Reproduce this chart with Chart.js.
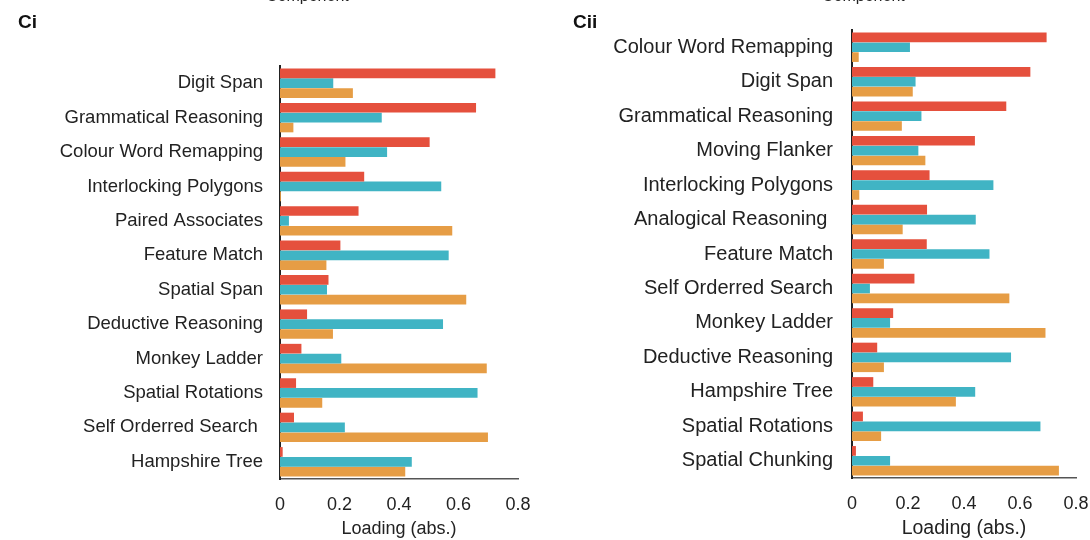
<!DOCTYPE html>
<html>
<head>
<meta charset="utf-8">
<script src="https://cdn.jsdelivr.net/npm/chart.js@4/dist/chart.umd.min.js"></script>
<style>
  body { margin: 0; background: #fff; font-family: "Liberation Sans", Arial, sans-serif; }
  #wrap { position: relative; width: 1090px; height: 540px; overflow: hidden; }
  .panel { position: absolute; top: 0; width: 545px; height: 540px; }
  .tag { position: absolute; top: 12px; font-weight: bold; font-size: 19px; line-height: 19px; color: #111; }
  .comp { position: absolute; top: -12px; font-size: 16px; line-height: 16px; color: #222; }
</style>
</head>
<body>
<div id="wrap">
  <div class="panel" style="left:0"><canvas id="chartCi" width="545" height="540"></canvas></div>
  <div class="panel" style="left:545px"><canvas id="chartCii" width="545" height="540"></canvas></div>
  <div class="comp" style="left:266px">Component</div>
  <div class="comp" style="left:822px">Component</div>
  <div class="tag" style="left:18px">Ci</div>
  <div class="tag" style="left:573px">Cii</div>
</div>

<script>
// panel Ci
const labelsCi = ['Digit Span', 'Grammatical Reasoning', 'Colour Word Remapping', 'Interlocking Polygons',
  'Paired Associates', 'Feature Match', 'Spatial Span', 'Deductive Reasoning', 'Monkey Ladder',
  'Spatial Rotations', 'Self Orderred Search ', 'Hampshire Tree'];
const redCi    = [0.724, 0.659, 0.503, 0.283, 0.264, 0.203, 0.163, 0.091, 0.072, 0.054, 0.047, 0.009];
const tealCi   = [0.179, 0.342, 0.360, 0.542, 0.030, 0.567, 0.158, 0.548, 0.206, 0.664, 0.218, 0.443];
const orangeCi = [0.245, 0.045, 0.220, 0.003, 0.579, 0.156, 0.626, 0.178, 0.695, 0.142, 0.699, 0.421];

// panel Cii
const labelsCii = ['Colour Word Remapping', 'Digit Span', 'Grammatical Reasoning', 'Moving Flanker',
  'Interlocking Polygons', 'Analogical Reasoning ', 'Feature Match', 'Self Orderred Search',
  'Monkey Ladder', 'Deductive Reasoning', 'Hampshire Tree', 'Spatial Rotations', 'Spatial Chunking'];
const redCii    = [0.695, 0.637, 0.551, 0.439, 0.277, 0.268, 0.267, 0.223, 0.147, 0.090, 0.076, 0.039, 0.014];
const tealCii   = [0.207, 0.227, 0.248, 0.237, 0.505, 0.442, 0.491, 0.064, 0.136, 0.568, 0.440, 0.673, 0.136];
const orangeCii = [0.024, 0.217, 0.178, 0.262, 0.026, 0.181, 0.114, 0.562, 0.691, 0.114, 0.371, 0.104, 0.739];

const xTicks = [0, 0.2, 0.4, 0.6, 0.8];

const RED = '#E5503D';
const TEAL = '#40B4C4';
const ORANGE = '#E69D45';

Chart.defaults.font.family = '"Liberation Sans", Arial, sans-serif';
Chart.defaults.color = '#222';

function makeChart(id, labels, red, teal, orange, cfg) {
  const ctx = document.getElementById(id).getContext('2d');
  return new Chart(ctx, {
    type: 'bar',
    data: {
      labels: labels,
      datasets: [
        { data: red, backgroundColor: RED },
        { data: teal, backgroundColor: TEAL },
        { data: orange, backgroundColor: ORANGE }
      ]
    },
    options: {
      indexAxis: 'y',
      responsive: false,
      animation: false,
      layout: { padding: { top: cfg.top, right: cfg.right, left: 0, bottom: 0 } },
      plugins: { legend: { display: false }, tooltip: { enabled: false } },
      datasets: { bar: { categoryPercentage: 0.86, barPercentage: 0.98 } },
      scales: {
        x: {
          min: xTicks[0],
          max: xTicks[xTicks.length - 1],
          afterFit: s => { s.height = cfg.xHeight; },
          afterBuildTicks: s => { s.ticks = xTicks.map(v => ({ value: v })); },
          // tick marks hidden, tickLength only spaces the labels
          grid: { display: false, drawTicks: true, tickLength: 15 },
          border: { color: '#555', width: 1.5 },
          ticks: { padding: 0, font: { size: 18 } },
          title: {
            display: true,
            text: 'Loading (abs.)',
            font: { size: cfg.titleSize },
            padding: { top: 0, bottom: 0 }
          }
        },
        y: {
          afterFit: s => { s.width = cfg.yWidth; },
          grid: { display: false, drawTicks: true, tickLength: cfg.pad },
          border: { color: '#222', width: 2 },
          ticks: { padding: 0, font: { size: cfg.labelSize } }
        }
      }
    }
  });
}

makeChart('chartCi', labelsCi, redCi, tealCi, orangeCi,
  { top: 66, right: 27, xHeight: 61, yWidth: 280, pad: 17, labelSize: 18.5, titleSize: 18 });
makeChart('chartCii', labelsCii, redCii, tealCii, orangeCii,
  { top: 30, right: 14, xHeight: 62, yWidth: 307, pad: 19, labelSize: 20, titleSize: 19.5 });
</script>
</body>
</html>
